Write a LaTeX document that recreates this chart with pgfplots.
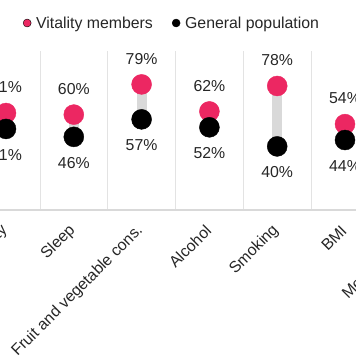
\documentclass[border=0pt]{standalone}
\usepackage{fontspec}
\setmainfont{Liberation Sans}
\usepackage{pgfplots}
\pgfplotsset{compat=1.18}
\usepackage{pgfplotstable}
\definecolor{vit}{HTML}{EC2762}
\definecolor{conn}{HTML}{D9D9D9}
\definecolor{gridc}{HTML}{E3E3E3}
\definecolor{txt}{HTML}{262626}

\pgfplotstableread{
x vit gen
0 61 51
1 60 46
2 79 57
3 62 52
4 78 40
5 54 44
}\datatable

\begin{document}
\begin{tikzpicture}
\useasboundingbox (0bp,0bp) rectangle (356bp,364bp);
\clip (0bp,0bp) rectangle (356bp,364bp);
\begin{axis}[
  at={(-61.8bp,154bp)}, anchor=south west,
  scale only axis, width=542.4bp, height=159bp,
  xmin=-1, xmax=7, ymin=0, ymax=100,
  /pgf/number format/assume math mode=true,
  axis x line=bottom, axis y line=none,
  x axis line style={-, draw=conn, line width=1.2bp},
  xtick={0,...,6},
  xticklabels={Physical activity, Sleep, Fruit and vegetable cons., Alcohol, Smoking, BMI, Mental health},
  major tick length=0pt,
  minor xtick={-0.5,0.5,...,6.5},
  xminorgrids, minor grid style={draw=gridc, line width=0.8bp},
  minor tick length=0pt,
  xticklabel style={font=\fontsize{15.9}{18}\selectfont, text=txt, yshift=-18bp, xshift=-1bp, rotate=45, anchor=east, inner sep=0pt},
  clip=false,
  legend image code/.code={\fill[#1] (0bp,0bp) circle (4bp); \node[inner sep=0pt, minimum size=0pt] at (7bp,0bp) {};},
  legend style={at={(0.431,1.176)}, anchor=center, draw=none, fill=none,
    legend columns=2, font=\fontsize{15.9}{18}\selectfont, text=txt,
    /tikz/every even column/.append style={column sep=17bp}},
]
\addplot[draw=none, mark=none, forget plot,
  error bars/.cd, y dir=plus, y explicit,
  error bar style={draw=conn, line width=10bp}, error mark=none]
  table[x=x, y=gen, y error expr=\thisrow{vit}-\thisrow{gen}] {\datatable};
\addplot[only marks, mark=*, mark size=10bp, color=vit, forget plot,
  nodes near coords={\pgfmathprintnumber{\pgfplotspointmeta}\%},
  nodes near coords style={anchor=south, inner sep=0pt, yshift=20bp, text=txt, font=\fontsize{15.9}{18}\selectfont}]
  table[x=x, y=vit] {\datatable};
\addplot[only marks, mark=*, mark size=10bp, color=black, forget plot,
  nodes near coords={\pgfmathprintnumber{\pgfplotspointmeta}\%},
  nodes near coords style={anchor=north, inner sep=0pt, yshift=-20bp, text=txt, font=\fontsize{15.9}{18}\selectfont}]
  table[x=x, y=gen] {\datatable};
\addlegendimage{fill=vit}
\addlegendentry{Vitality members}
\addlegendimage{fill=black}
\addlegendentry{General population}
\end{axis}
\end{tikzpicture}
\end{document}
